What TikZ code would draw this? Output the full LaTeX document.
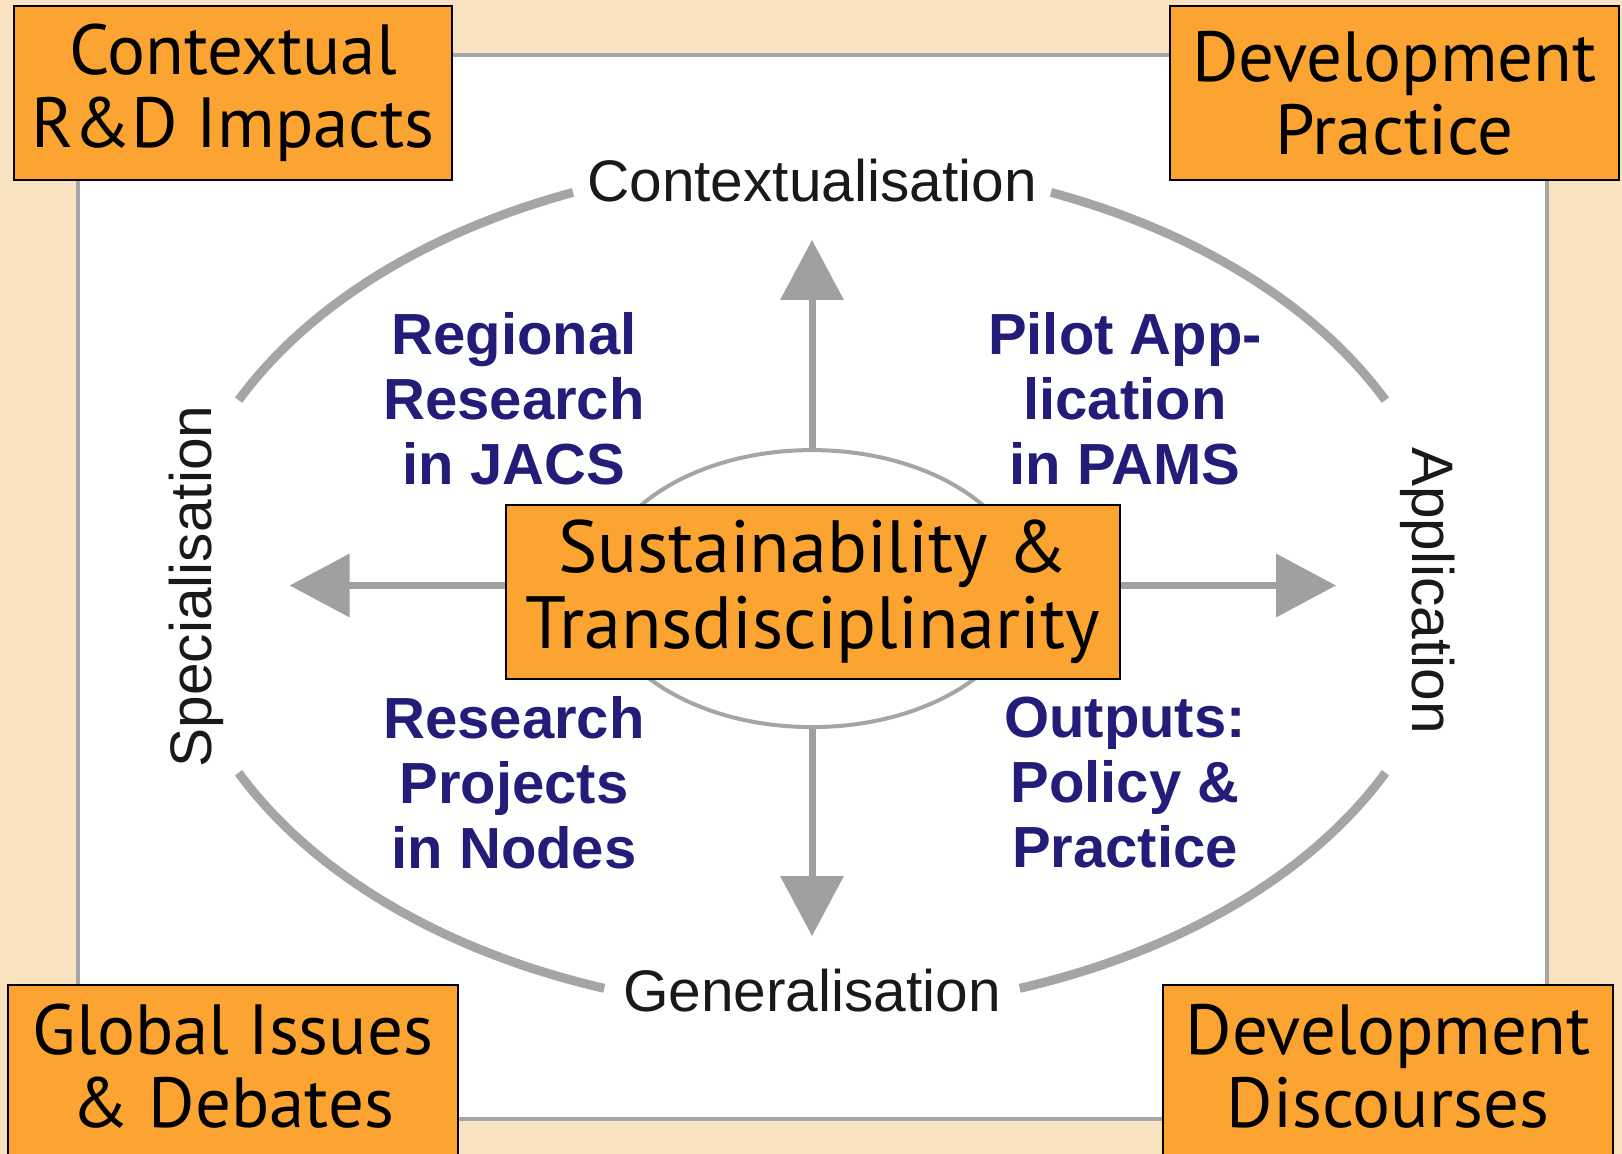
\documentclass[tikz,border=0pt]{standalone}
\usepackage{fontspec}
\setmainfont{Liberation Sans}
\newfontfamily\boxfont{PT Sans}
\usetikzlibrary{arrows.meta,shapes.geometric}
\definecolor{bg}{RGB}{248,226,192}
\definecolor{orangebox}{RGB}{251,164,50}
\definecolor{navy}{RGB}{35,28,120}
\definecolor{arcgray}{RGB}{165,165,165}
\definecolor{arrowgray}{RGB}{160,160,160}
\definecolor{panelgray}{RGB}{166,166,166}
\definecolor{labelgray}{RGB}{25,25,25}
\begin{document}
\begin{tikzpicture}[x=0.5pt,y=-0.5pt,
  obox/.style={draw=black, line width=1pt, fill=orangebox, inner sep=0pt, align=center,
    font=\boxfont\fontsize{35.5}{36.5}\selectfont},
  boxtext/.style={inner sep=0pt, align=center, font=\boxfont\fontsize{35.5}{36.5}\selectfont},
  quad/.style={align=center, text=navy, inner sep=0pt, font=\fontsize{29}{32.5}\selectfont\bfseries},
  axislabel/.style={text=labelgray, inner sep=0pt, font=\fontsize{29.3}{34}\selectfont},
  bigarc/.style={draw=arcgray, line width=4.5pt},
  axisarrow/.style={draw=arrowgray, line width=3.5pt, -{Triangle[length=30pt,width=31pt]}}]
\useasboundingbox (0,0) rectangle (1622,1154);
\fill[bg] (0,0) rectangle (1622,1154);
% panel
\draw[panelgray, line width=2pt, fill=white] (77.6,54.8) rectangle (1546.5,1119);
% big ellipse arcs
\draw[bigarc] plot[domain=112:154, samples=40] ({812+638*cos(\x)},{586.5-425*sin(\x)});
\draw[bigarc] plot[domain=26:68, samples=40] ({812+638*cos(\x)},{586.5-425*sin(\x)});
\draw[bigarc] plot[domain=206:251, samples=40] ({812+638*cos(\x)},{586.5-425*sin(\x)});
\draw[bigarc] plot[domain=289:334, samples=40] ({812+638*cos(\x)},{586.5-425*sin(\x)});
% inner ellipse
\node[draw=arcgray, line width=2pt, ellipse, inner sep=0pt, minimum width=214pt, minimum height=138.5pt] (ring) at (812,588.6) {};
% axis labels
\node[axislabel] (ctx) at (812,181) {Contextualisation};
\node[axislabel] (gen) at (812,991) {Generalisation};
\node[axislabel, rotate=90] (spec) at (196.5,586.5) {Specialisation};
\node[axislabel, rotate=-90] (app) at (1427.5,590.6) {Application};
% quadrant labels
\node[quad] (q1) at (514,399) {Regional\\Research\\in JACS};
\node[quad] (q2) at (1125,399) {Pilot App-\\lication\\in PAMS};
\node[quad] (q3) at (514,783) {Research\\Projects\\in Nodes};
\node[quad] (q4) at (1125,783) {Outputs:\\Policy \&\\Practice};
% centre box
\node[obox, minimum width=307pt, minimum height=87pt, font=\boxfont\fontsize{37}{38}\selectfont] (core) at (813,592) {Sustainability \&\\Transdisciplinarity};
% arrows
\coordinate (uptip) at (812,240);
\coordinate (downtip) at (812,936);
\coordinate (lefttip) at (289.6,585.5);
\coordinate (righttip) at (1336,585.5);
\draw[axisarrow] (ring.north) -- (uptip);
\draw[axisarrow] (ring.south) -- (downtip);
\draw[axisarrow] (core.west |- lefttip) -- (lefttip);
\draw[axisarrow] (core.east |- righttip) -- (righttip);
% corner boxes
\node[obox, minimum width=218.75pt, minimum height=87pt] (tl) at (233,93) {Contextual\\R\&D Impacts};
\node[obox, minimum width=224.5pt, minimum height=87pt] (tr) at (1394.5,93) {Development\\Practice};
\node[obox, minimum width=225pt, minimum height=90pt] (bl) at (233,1075) {};
\node[boxtext] (bltext) at (233,1066) {Global Issues\\\& Debates};
\node[obox, minimum width=225pt, minimum height=90pt] (br) at (1388,1075) {};
\node[boxtext] (brtext) at (1388,1066) {Development\\Discourses};
\end{tikzpicture}
\end{document}
